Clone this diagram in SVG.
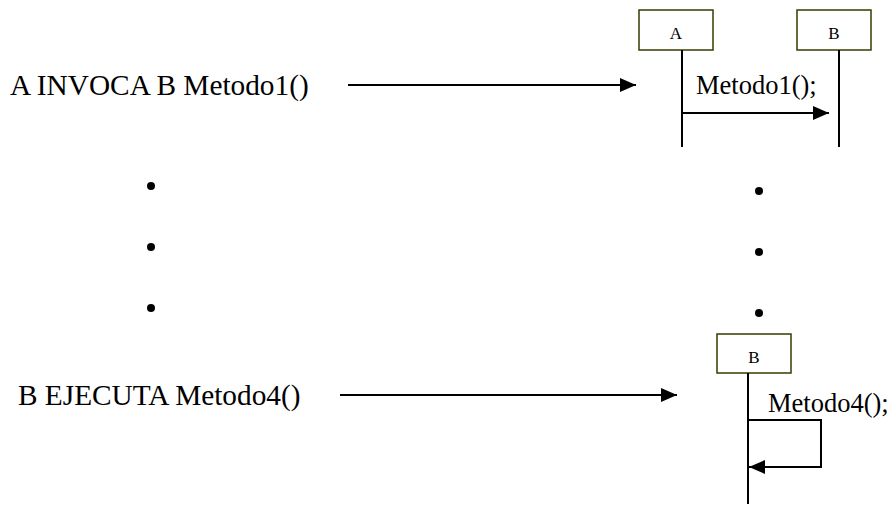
<svg xmlns="http://www.w3.org/2000/svg" width="894" height="506" viewBox="0 0 894 506">
<defs>
<style>
text{font-family:'Liberation Serif','Times New Roman','DejaVu Serif',serif;fill:#000}
.big{font-size:29.3px}
.msg{font-size:26.5px}
.obj{font-size:17px;text-anchor:middle}
.box{fill:#fff;stroke:#3a3a00;stroke-width:1.5}
.ln{stroke:#000;stroke-width:2;fill:none}
.dot{fill:#000}
</style>
<marker id="ah" markerWidth="16" markerHeight="14" refX="16" refY="7" orient="auto" markerUnits="userSpaceOnUse">
<path d="M0,0 L16,7 L0,14 Z" fill="#000"/>
</marker>
</defs>
<rect width="894" height="506" fill="#fff"/>
<g id="label-invoca"><text class="big" x="10" y="95">A INVOCA B Metodo1()</text></g>
<g id="label-ejecuta"><text class="big" x="18" y="405">B EJECUTA Metodo4()</text></g>
<g id="objA"><rect class="box" x="639" y="10" width="74" height="40"/><text class="obj" x="676" y="39">A</text></g>
<g id="objB"><rect class="box" x="797" y="10" width="74" height="40"/><text class="obj" x="834" y="39">B</text></g>
<g id="objB2"><rect class="box" x="717" y="334" width="74" height="39"/><text class="obj" x="754" y="363">B</text></g>
<g id="dots-left"><circle class="dot" cx="151" cy="186" r="4"/><circle class="dot" cx="151" cy="247" r="4"/><circle class="dot" cx="151" cy="308" r="4"/></g>
<g id="dots-right"><circle class="dot" cx="759" cy="191" r="4"/><circle class="dot" cx="759" cy="252" r="4"/><circle class="dot" cx="759" cy="313" r="4"/></g>
<g id="connectors">
<line class="ln" x1="348" y1="85" x2="636" y2="85" marker-end="url(#ah)"/>
<line class="ln" x1="340" y1="395" x2="677" y2="395" marker-end="url(#ah)"/>
<line class="ln" x1="682" y1="50" x2="682" y2="147"/>
<line class="ln" x1="839" y1="50" x2="839" y2="147"/>
<line class="ln" x1="682" y1="113" x2="829" y2="113" marker-end="url(#ah)"/>
<line class="ln" x1="748" y1="373" x2="748" y2="504"/>
<polyline class="ln" points="748,420 821,420 821,467 749,467" marker-end="url(#ah)"/>
</g>
<g id="msg-labels">
<text class="msg" x="696" y="94">Metodo1();</text>
<text class="msg" x="768" y="412">Metodo4();</text>
</g>
</svg>
